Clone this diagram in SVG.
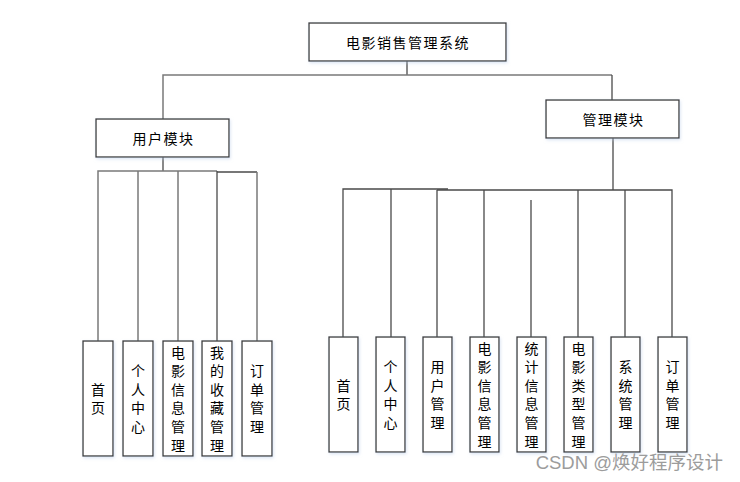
<svg xmlns="http://www.w3.org/2000/svg" width="740" height="482" viewBox="0 0 740 482">
<defs>
<filter id="sh" x="-20%" y="-20%" width="140%" height="140%">
<feDropShadow dx="1" dy="1.5" stdDeviation="1.5" flood-color="#b8cce8" flood-opacity="0.5"/>
</filter>
</defs>
<style>
.box{fill:#fff;stroke:#3a3a3a;stroke-width:1.3;filter:url(#sh)}
.t{font-family:"Noto Sans CJK SC","Microsoft YaHei",sans-serif;font-size:14px;fill:#000;text-anchor:middle;dominant-baseline:central}
.h{letter-spacing:1.5px}
.c{stroke:#4a4a4a;stroke-width:1.3;fill:none}
.g{stroke:#7a7a7a;stroke-width:1.5;fill:none}
.wm{font-family:"Liberation Sans","Noto Sans CJK SC",sans-serif;font-size:18.5px;fill:#9c9c9c;text-anchor:end}
</style>
<rect width="740" height="482" fill="#fff"/>
<g id="connectors">
<path class="c" d="M407,61V75"/>
<path class="g" d="M163,119V75H612"/>
<path class="c" d="M612,75V100"/>
<path class="c" d="M163,157V171"/>
<path class="g" d="M98,341V171H217"/>
<path class="c" d="M217,172H257"/>
<path class="g" d="M138,171V341M178,171V341M257,172V341"/>
<path class="c" d="M217,171V341"/>
<path class="c" d="M613,138V190"/>
<path class="c" d="M343,337V189H448"/>
<path class="c" d="M437,190H672V337"/>
<path class="c" d="M391,189V337M437,190V337M484,190V337M531,200V337M578,190V337M625,190V337"/>
</g>
<g id="root">
<rect class="box" x="309" y="23" width="197" height="38"/>
<text class="t h" x="408" y="42">电影销售管理系统</text>
</g>
<g id="user">
<rect class="box" x="96" y="119" width="133" height="38"/>
<text class="t h" x="163.5" y="138">用户模块</text>
</g>
<g id="admin">
<rect class="box" x="546" y="100" width="133" height="38"/>
<text class="t h" x="613.5" y="119">管理模块</text>
</g>
<g id="u1">
<rect class="box" x="83" y="341" width="30" height="115"/>
<text class="t" x="98" y="388.7"><tspan x="98">首</tspan><tspan x="98" dy="18.6">页</tspan></text>
</g>
<g id="u2">
<rect class="box" x="123" y="341" width="30" height="115"/>
<text class="t" x="138" y="370.1"><tspan x="138">个</tspan><tspan x="138" dy="18.6">人</tspan><tspan x="138" dy="18.6">中</tspan><tspan x="138" dy="18.6">心</tspan></text>
</g>
<g id="u3">
<rect class="box" x="163" y="341" width="30" height="115"/>
<text class="t" x="178" y="351.5"><tspan x="178">电</tspan><tspan x="178" dy="18.6">影</tspan><tspan x="178" dy="18.6">信</tspan><tspan x="178" dy="18.6">息</tspan><tspan x="178" dy="18.6">管</tspan><tspan x="178" dy="18.6">理</tspan></text>
</g>
<g id="u4">
<rect class="box" x="202" y="341" width="30" height="115"/>
<text class="t" x="217" y="351.5"><tspan x="217">我</tspan><tspan x="217" dy="18.6">的</tspan><tspan x="217" dy="18.6">收</tspan><tspan x="217" dy="18.6">藏</tspan><tspan x="217" dy="18.6">管</tspan><tspan x="217" dy="18.6">理</tspan></text>
</g>
<g id="u5">
<rect class="box" x="242" y="341" width="30" height="115"/>
<text class="t" x="257" y="370.1"><tspan x="257">订</tspan><tspan x="257" dy="18.6">单</tspan><tspan x="257" dy="18.6">管</tspan><tspan x="257" dy="18.6">理</tspan></text>
</g>
<g id="a1">
<rect class="box" x="329" y="337" width="29" height="115"/>
<text class="t" x="343.5" y="384.7"><tspan x="343.5">首</tspan><tspan x="343.5" dy="18.6">页</tspan></text>
</g>
<g id="a2">
<rect class="box" x="376" y="337" width="29" height="115"/>
<text class="t" x="390.5" y="366.1"><tspan x="390.5">个</tspan><tspan x="390.5" dy="18.6">人</tspan><tspan x="390.5" dy="18.6">中</tspan><tspan x="390.5" dy="18.6">心</tspan></text>
</g>
<g id="a3">
<rect class="box" x="423" y="337" width="29" height="115"/>
<text class="t" x="437.5" y="366.1"><tspan x="437.5">用</tspan><tspan x="437.5" dy="18.6">户</tspan><tspan x="437.5" dy="18.6">管</tspan><tspan x="437.5" dy="18.6">理</tspan></text>
</g>
<g id="a4">
<rect class="box" x="470" y="337" width="29" height="115"/>
<text class="t" x="484.5" y="347.5"><tspan x="484.5">电</tspan><tspan x="484.5" dy="18.6">影</tspan><tspan x="484.5" dy="18.6">信</tspan><tspan x="484.5" dy="18.6">息</tspan><tspan x="484.5" dy="18.6">管</tspan><tspan x="484.5" dy="18.6">理</tspan></text>
</g>
<g id="a5">
<rect class="box" x="517" y="337" width="29" height="115"/>
<text class="t" x="531.5" y="347.5"><tspan x="531.5">统</tspan><tspan x="531.5" dy="18.6">计</tspan><tspan x="531.5" dy="18.6">信</tspan><tspan x="531.5" dy="18.6">息</tspan><tspan x="531.5" dy="18.6">管</tspan><tspan x="531.5" dy="18.6">理</tspan></text>
</g>
<g id="a6">
<rect class="box" x="564" y="337" width="29" height="115"/>
<text class="t" x="578.5" y="347.5"><tspan x="578.5">电</tspan><tspan x="578.5" dy="18.6">影</tspan><tspan x="578.5" dy="18.6">类</tspan><tspan x="578.5" dy="18.6">型</tspan><tspan x="578.5" dy="18.6">管</tspan><tspan x="578.5" dy="18.6">理</tspan></text>
</g>
<g id="a7">
<rect class="box" x="611" y="337" width="29" height="115"/>
<text class="t" x="625.5" y="366.1"><tspan x="625.5">系</tspan><tspan x="625.5" dy="18.6">统</tspan><tspan x="625.5" dy="18.6">管</tspan><tspan x="625.5" dy="18.6">理</tspan></text>
</g>
<g id="a8">
<rect class="box" x="658" y="337" width="29" height="115"/>
<text class="t" x="672.5" y="366.1"><tspan x="672.5">订</tspan><tspan x="672.5" dy="18.6">单</tspan><tspan x="672.5" dy="18.6">管</tspan><tspan x="672.5" dy="18.6">理</tspan></text>
</g>
<text class="wm" x="723" y="469">CSDN @焕好程序设计</text>
</svg>
